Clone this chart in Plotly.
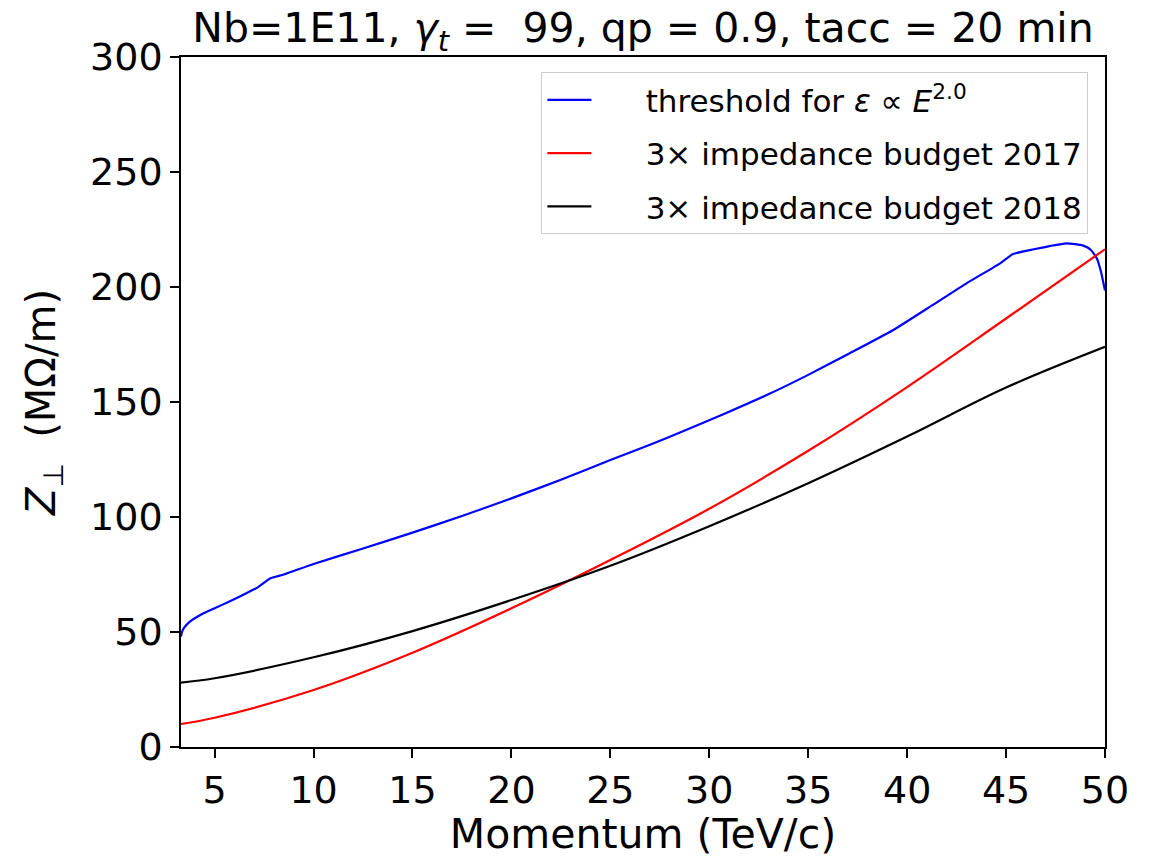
import plotly.graph_objects as go

# Momentum (TeV/c) and Z_perp (MOhm/m)
blue_x = [3.3, 3.35, 3.45, 3.75, 4.3, 5.0, 5.8, 6.6, 7.2, 7.8, 8.5, 10.0, 12.5, 15.0, 17.5,
          20.0, 22.5, 25.0, 27.0, 28.7, 30.8, 32.9, 35.0, 37.1, 39.3, 41.3, 43.0, 44.7, 45.35,
          46.4, 47.2, 48.05, 48.9, 49.3, 49.6, 49.8, 49.95, 50.0]
blue_y = [48.0, 50.0, 51.8, 54.5, 57.5, 60.3, 63.5, 66.8, 69.5, 73.3, 75.0, 79.6, 86.3, 93.2, 100.4,
          108.1, 116.2, 124.8, 131.4, 137.4, 145.0, 153.0, 161.8, 171.2, 181.3, 192.2, 201.6, 210.3,
          214.3, 216.4, 217.8, 219.0, 218.0, 216.0, 212.2, 206.5, 200.5, 198.5]

budget_x = [3.3, 5, 10, 15, 20, 25, 30, 35, 40, 45, 50]
red_y = [10.0, 12.7, 24.8, 41.0, 60.3, 81.3, 103.6, 128.8, 156.5, 186.3, 216.4]
black_y = [28.0, 29.9, 39.0, 50.4, 63.9, 78.8, 96.0, 114.7, 135.0, 156.3, 174.0]

names = ["threshold for <i>ε</i> ∝ <i>E</i><sup>2.0</sup>",
         "3× impedance budget 2017",
         "3× impedance budget 2018"]

FONT = "DejaVu Sans"
PAD = "&nbsp;" * 5

fig = go.Figure()
fig.add_trace(go.Scatter(x=blue_x, y=blue_y, mode="lines", name=PAD + names[0], legendgroup="a",
                         line=dict(color="#0000ff", width=2.2, shape="spline", smoothing=0.5)))
fig.add_trace(go.Scatter(x=budget_x, y=red_y, mode="lines", name=PAD + names[1], legendgroup="b",
                         line=dict(color="#ff0000", width=2.2, shape="spline")))
fig.add_trace(go.Scatter(x=budget_x, y=black_y, mode="lines", name=PAD + names[2], legendgroup="c",
                         line=dict(color="#000000", width=2.2, shape="spline")))

axis_common = dict(showline=True, linecolor="black", linewidth=1.6, mirror=True,
                   ticks="outside", ticklen=9, tickwidth=1.6, tickcolor="black",
                   showgrid=False, zeroline=False,
                   tickfont=dict(family=FONT, size=38, color="black"))

fig.update_layout(
    width=1154, height=858,
    margin=dict(l=181, r=49, t=57, b=111),
    paper_bgcolor="white", plot_bgcolor="white",
    font=dict(family=FONT, color="black"),
    title=dict(text="Nb=1E11, <i>γ<sub>t</sub></i> =&nbsp;&nbsp;99, qp = 0.9, tacc = 20 min",
               x=(181 + 1105) / 2 / 1154, xanchor="center", y=1 - 28 / 858, yanchor="middle",
               font=dict(family=FONT, size=41, color="black")),
    xaxis=dict(range=[3.3, 50], tick0=5, dtick=5,
               title=dict(text="Momentum (TeV/c)", standoff=6,
                          font=dict(family=FONT, size=41, color="black")),
               **axis_common),
    yaxis=dict(range=[0, 300], tick0=0, dtick=50,
               title=dict(text="<i>Z</i><sub>⊥</sub>&nbsp;&nbsp;(MΩ/m)", standoff=22,
                          font=dict(family=FONT, size=40, color="black")),
               **axis_common),
    legend=dict(x=0.982, y=0.978, xanchor="right", yanchor="top",
                bgcolor="rgba(255,255,255,0.8)", bordercolor="#cccccc", borderwidth=1,
                font=dict(family=FONT, size=31, color="black"),
                tracegroupgap=10, itemwidth=44),
    showlegend=True,
)

fig.write_html("out.html")
